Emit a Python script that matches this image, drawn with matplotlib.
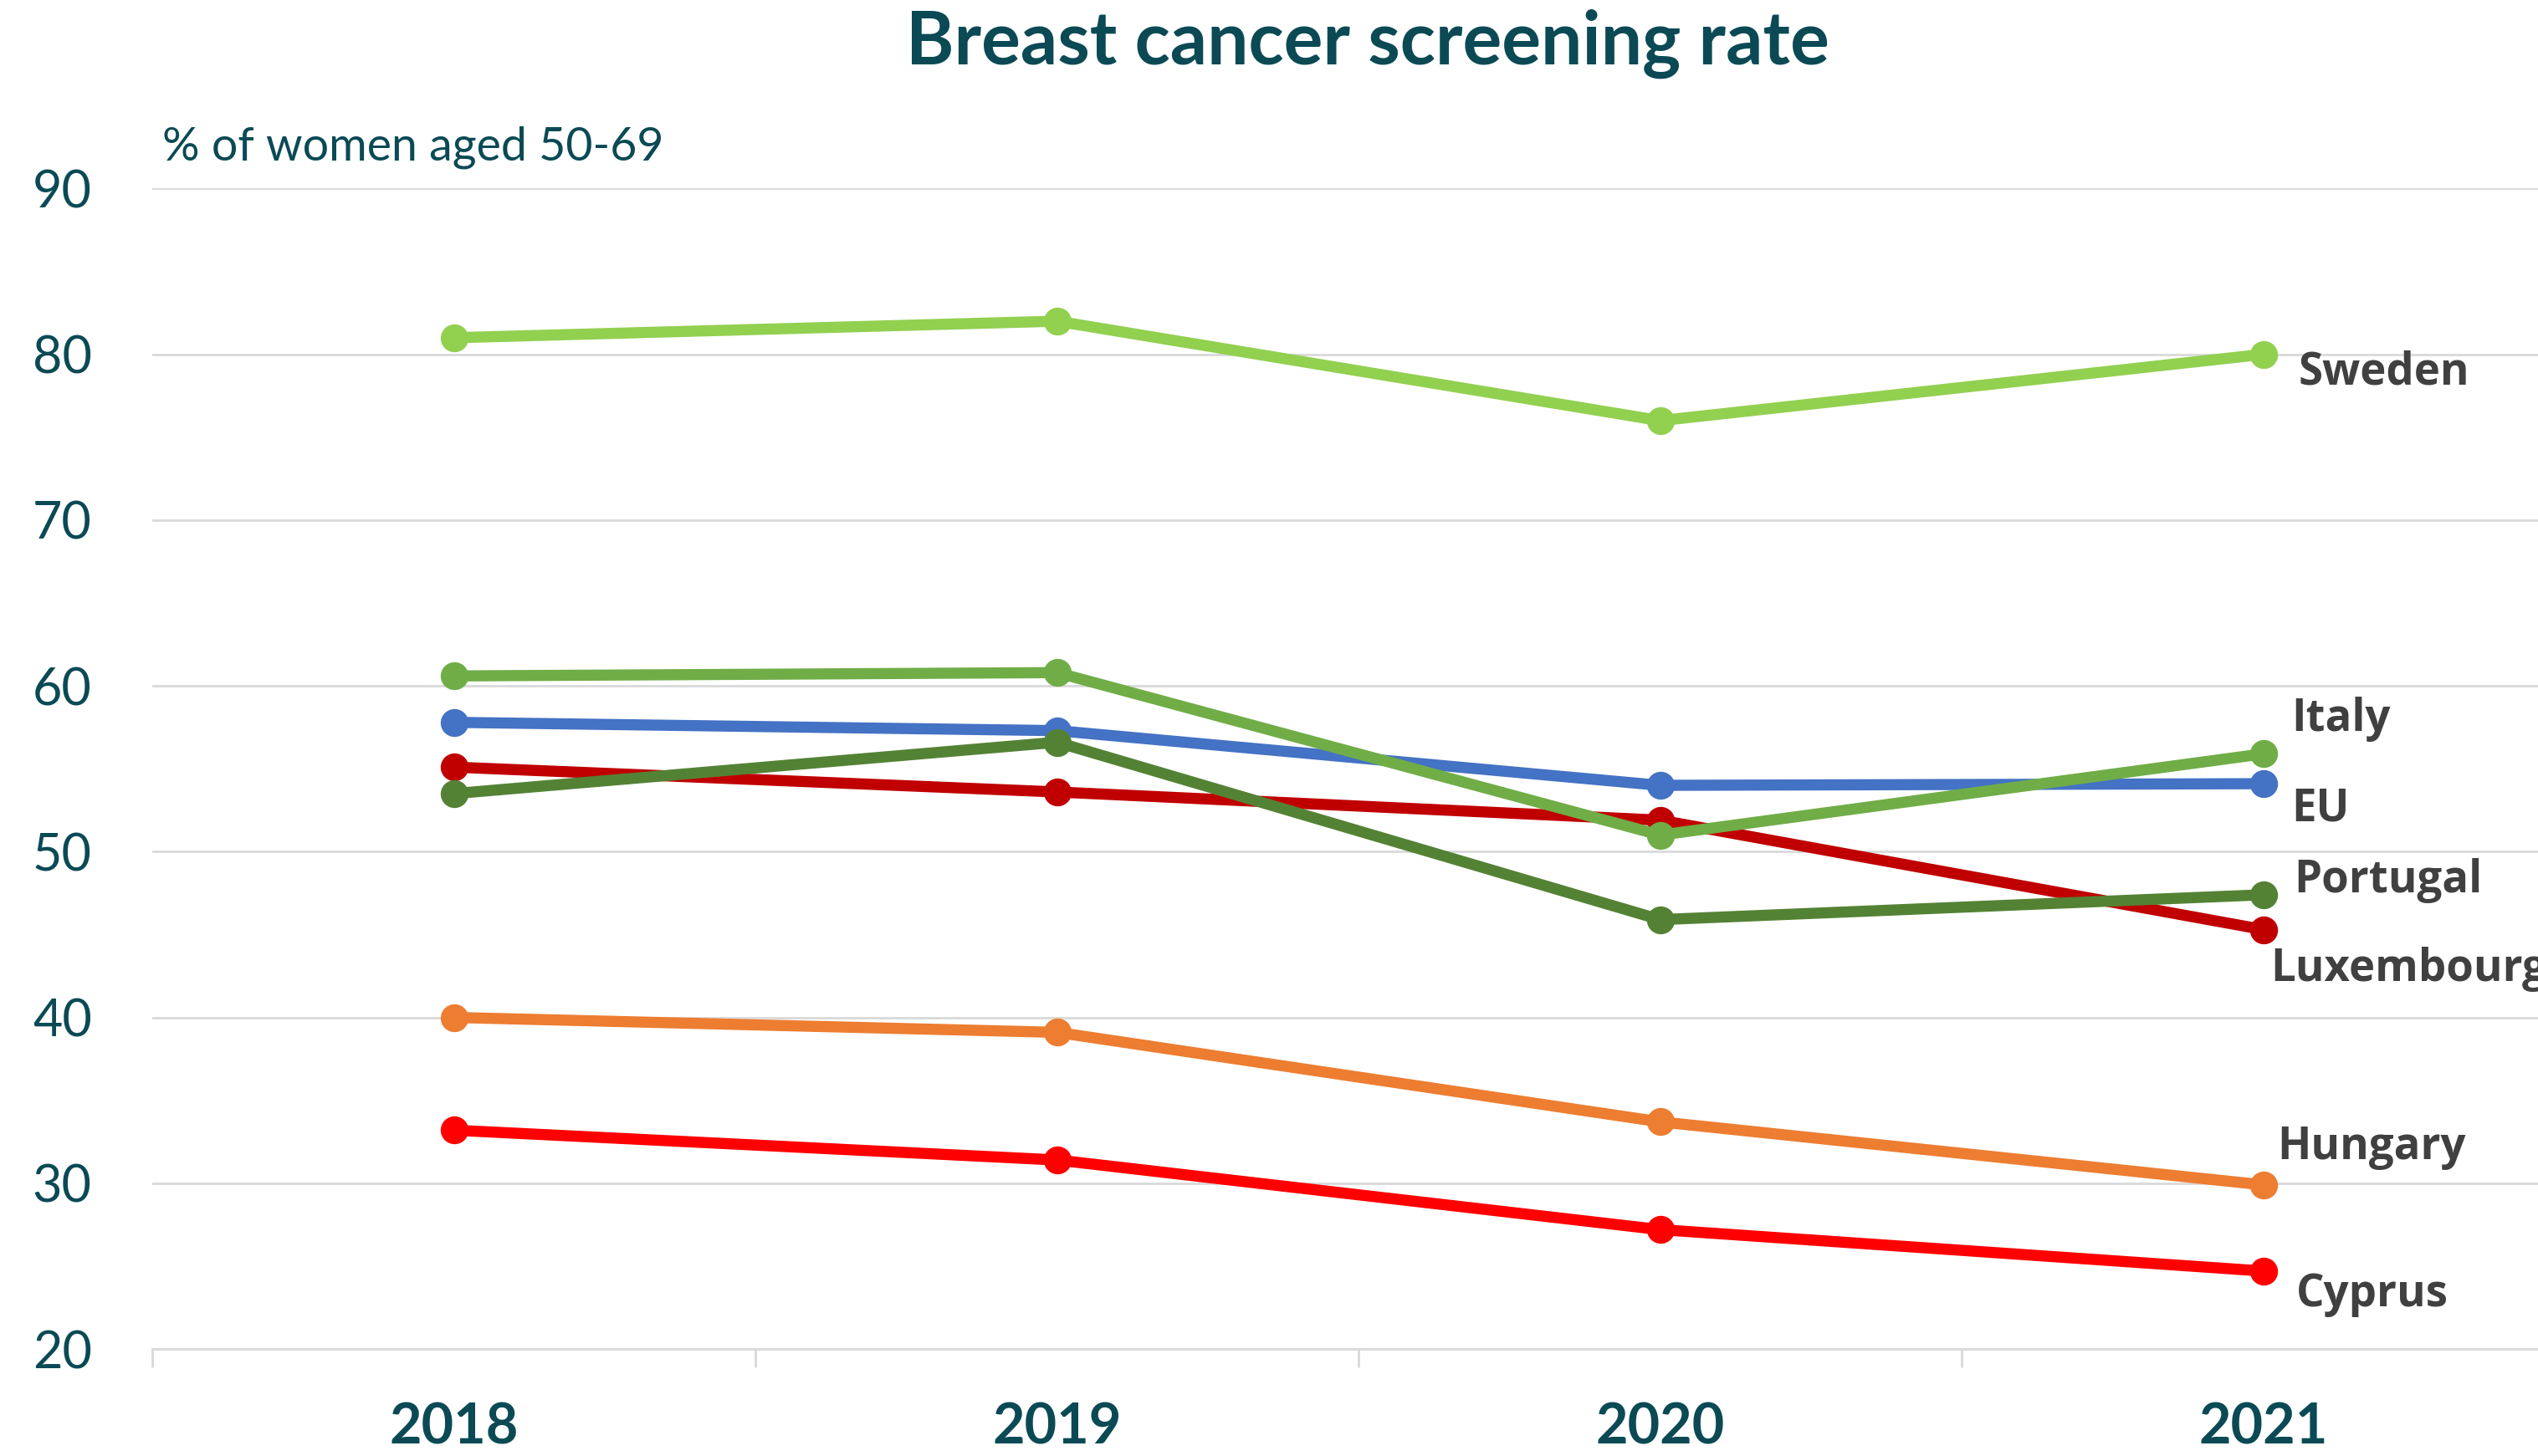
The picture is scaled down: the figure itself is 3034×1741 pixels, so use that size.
import matplotlib.pyplot as plt
from matplotlib.ticker import FixedLocator

# Data (% of women aged 50-69 screened)
years = ["2018", "2019", "2020", "2021"]
sweden = [81.0, 82.0, 76.0, 80.0]
italy = [60.6, 60.8, 51.0, 55.9]
eu = [57.8, 57.3, 54.0, 54.1]
portugal = [53.5, 56.6, 45.9, 47.4]
luxembourg = [55.1, 53.6, 51.9, 45.3]
hungary = [40.0, 39.1, 33.7, 29.9]
cyprus = [33.2, 31.4, 27.2, 24.7]

teal = "#0B4A55"
label_grey = "#404040"

plt.rcParams['font.family'] = ['Lato', 'DejaVu Sans']

# (name, values, colour, label offset in points)
series = [
    ("Hungary", hungary, "#ED7D31", (6, 16)),
    ("Cyprus", cyprus, "#FF0000", (14, -10)),
    ("Luxembourg", luxembourg, "#C00000", (3, -17)),
    ("EU", eu, "#4472C4", (12, -11)),
    ("Italy", italy, "#70AD47", (12, 15)),
    ("Portugal", portugal, "#548235", (13, 6)),
    ("Sweden", sweden, "#92D050", (15, -8)),
]

fig = plt.figure(figsize=(15.17, 8.705), dpi=200)
ax = fig.add_axes([0.06, 0.0735, 0.9506, 0.797])

x = list(range(len(years)))
for name, vals, col, off in series:
    ax.plot(x, vals, color=col, lw=4.8, marker="o", markersize=11, solid_capstyle="round")
    ax.annotate(name, (x[-1], vals[-1]), xytext=off, textcoords="offset points",
                ha="left", va="center", fontsize=19, fontweight="bold",
                color=label_grey, family=["Open Sans", "DejaVu Sans"],
                annotation_clip=False)

ax.set_xlim(-0.5, len(years) - 0.5)
ax.set_ylim(20, 90)
ax.set_yticks(range(20, 91, 10))
ax.grid(axis="y", color="#D9D9D9", lw=1.0)
ax.set_axisbelow(True)

ax.set_xticks(x)
ax.set_xticklabels(years, fontsize=24, fontweight="bold", color=teal)
ax.xaxis.set_minor_locator(FixedLocator([i - 0.5 for i in range(len(years) + 1)]))
ax.tick_params(axis="x", which="major", length=0, pad=23)
ax.tick_params(axis="x", which="minor", length=8, width=1.0, color="#D9D9D9", direction="out")
ax.tick_params(axis="y", length=0, pad=26, labelsize=22, labelcolor=teal)

for side in ["top", "right", "left"]:
    ax.spines[side].set_visible(False)
ax.spines["bottom"].set_color("#D9D9D9")
ax.spines["bottom"].set_linewidth(1.0)

fig.text(0.539, 1 - 52 / 1741, "Breast cancer screening rate", ha="center", va="center",
         fontsize=31.5, fontweight="bold", color=teal)
fig.text(0.0638, 1 - 176 / 1741, "% of women aged 50-69", ha="left", va="center",
         fontsize=20, color=teal)

fig.savefig("out.png", dpi=200)
